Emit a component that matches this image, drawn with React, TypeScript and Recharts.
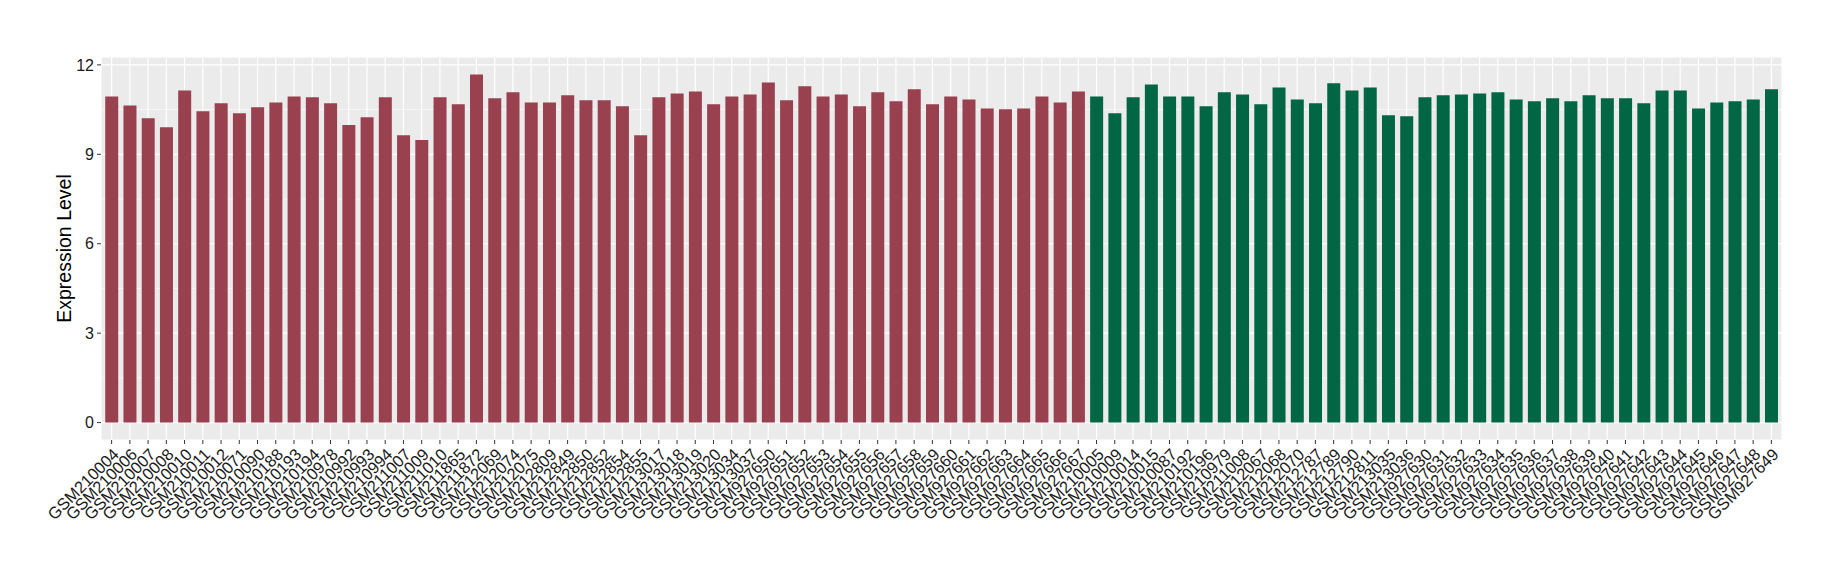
import React from 'react';
import { BarChart, Bar, XAxis, YAxis, CartesianGrid, Cell } from 'recharts';

const redSamples = [
  'GSM210004', 'GSM210006', 'GSM210007', 'GSM210008', 'GSM210010', 'GSM210011', 'GSM210012', 'GSM210071',
  'GSM210090', 'GSM210188', 'GSM210193', 'GSM210194', 'GSM210978', 'GSM210992', 'GSM210993', 'GSM210994',
  'GSM211007', 'GSM211009', 'GSM211010', 'GSM211865', 'GSM211872', 'GSM212069', 'GSM212074', 'GSM212075',
  'GSM212809', 'GSM212849', 'GSM212850', 'GSM212852', 'GSM212854', 'GSM212855', 'GSM213017', 'GSM213018',
  'GSM213019', 'GSM213020', 'GSM213034', 'GSM213037', 'GSM927650', 'GSM927651', 'GSM927652', 'GSM927653',
  'GSM927654', 'GSM927655', 'GSM927656', 'GSM927657', 'GSM927658', 'GSM927659', 'GSM927660', 'GSM927661',
  'GSM927662', 'GSM927663', 'GSM927664', 'GSM927665', 'GSM927666', 'GSM927667',
];
const redValues = [
  10.94, 10.64, 10.21, 9.91, 11.14, 10.44, 10.71, 10.38,
  10.58, 10.74, 10.94, 10.91, 10.71, 9.98, 10.24, 10.91,
  9.64, 9.48, 10.91, 10.68, 11.68, 10.88, 11.08, 10.74,
  10.74, 10.98, 10.81, 10.81, 10.61, 9.64, 10.91, 11.04,
  11.11, 10.68, 10.94, 11.01, 11.41, 10.81, 11.28, 10.94,
  11.01, 10.61, 11.08, 10.78, 11.18, 10.68, 10.94, 10.84,
  10.54, 10.51, 10.54, 10.94, 10.74, 11.11,
];
const greenSamples = [
  'GSM210005', 'GSM210009', 'GSM210014', 'GSM210015', 'GSM210087', 'GSM210192', 'GSM210196', 'GSM210979',
  'GSM211008', 'GSM212067', 'GSM212068', 'GSM212070', 'GSM212787', 'GSM212789', 'GSM212790', 'GSM212811',
  'GSM213035', 'GSM213036', 'GSM927630', 'GSM927631', 'GSM927632', 'GSM927633', 'GSM927634', 'GSM927635',
  'GSM927636', 'GSM927637', 'GSM927638', 'GSM927639', 'GSM927640', 'GSM927641', 'GSM927642', 'GSM927643',
  'GSM927644', 'GSM927645', 'GSM927646', 'GSM927647', 'GSM927648', 'GSM927649',
];
const greenValues = [
  10.94, 10.38, 10.91, 11.34, 10.94, 10.94, 10.61, 11.08,
  11.01, 10.68, 11.24, 10.84, 10.71, 11.38, 11.14, 11.24,
  10.31, 10.28, 10.91, 10.98, 11.01, 11.04, 11.08, 10.84,
  10.78, 10.88, 10.78, 10.98, 10.88, 10.88, 10.71, 11.14,
  11.14, 10.54, 10.74, 10.78, 10.84, 11.18,
];
const yTicks = [0, 3, 6, 9, 12];
const yMinorTicks = [1.5, 4.5, 7.5, 10.5];

const RED = '#9A4150';
const GREEN = '#006644';
const FONT = '"Liberation Sans", Arial, sans-serif';

const data = [
  ...redSamples.map((name, i) => ({ name, value: redValues[i], color: RED })),
  ...greenSamples.map((name, i) => ({ name, value: greenValues[i], color: GREEN })),
];

const XTick = (props: any) => {
  const { x, y, payload } = props;
  return (
    <g transform={`translate(${x},${y})`}>
      <text
        transform="rotate(-45)"
        textAnchor="end"
        dy="0.72em"
        fontSize={16.5}
        fontFamily={FONT}
        fill="#1a1a1a"
      >
        {payload.value}
      </text>
    </g>
  );
};

const YTitle = () => (
  <text
    x={64}
    y={248.5}
    transform="rotate(-90 64 248.5)"
    textAnchor="middle"
    dominantBaseline="central"
    fontSize={19.5}
    fontFamily={FONT}
    fill="#000"
  >
    Expression Level
  </text>
);

export default function App() {
  return (
    <div style={{ position: 'absolute', left: 0, top: 0, background: '#fff' }}>
      <BarChart
        width={1840}
        height={580}
        data={data}
        margin={{ top: 57, right: 58, bottom: 0, left: 0 }}
        barCategoryGap="15%"
      >
        <CartesianGrid
          fill="#EBEBEB"
          stroke="#FFFFFF"
          strokeWidth={0.6}
          horizontalValues={yMinorTicks}
          vertical={false}
        />
        <CartesianGrid
          stroke="#FFFFFF"
          strokeWidth={1.2}
          fillOpacity={0}
        />
        <XAxis
          dataKey="name"
          interval={0}
          height={140}
          padding={{ left: 1.5, right: 1.5 }}
          axisLine={false}
          tickLine={{ stroke: '#333', strokeWidth: 1 }}
          tickSize={4}
          tickMargin={3}
          tick={<XTick />}
        />
        <YAxis
          type="number"
          width={101}
          domain={[-0.584, 12.264]}
          allowDataOverflow
          ticks={yTicks}
          interval={0}
          axisLine={false}
          tickLine={{ stroke: '#333', strokeWidth: 1 }}
          tickSize={4}
          tickMargin={3}
          tick={{ fontSize: 16, fontFamily: FONT, fill: '#1a1a1a' }}
        />
        <Bar dataKey="value" isAnimationActive={false}>
          {data.map((d, i) => (
            <Cell key={i} fill={d.color} />
          ))}
        </Bar>
        <YTitle />
      </BarChart>
    </div>
  );
}
